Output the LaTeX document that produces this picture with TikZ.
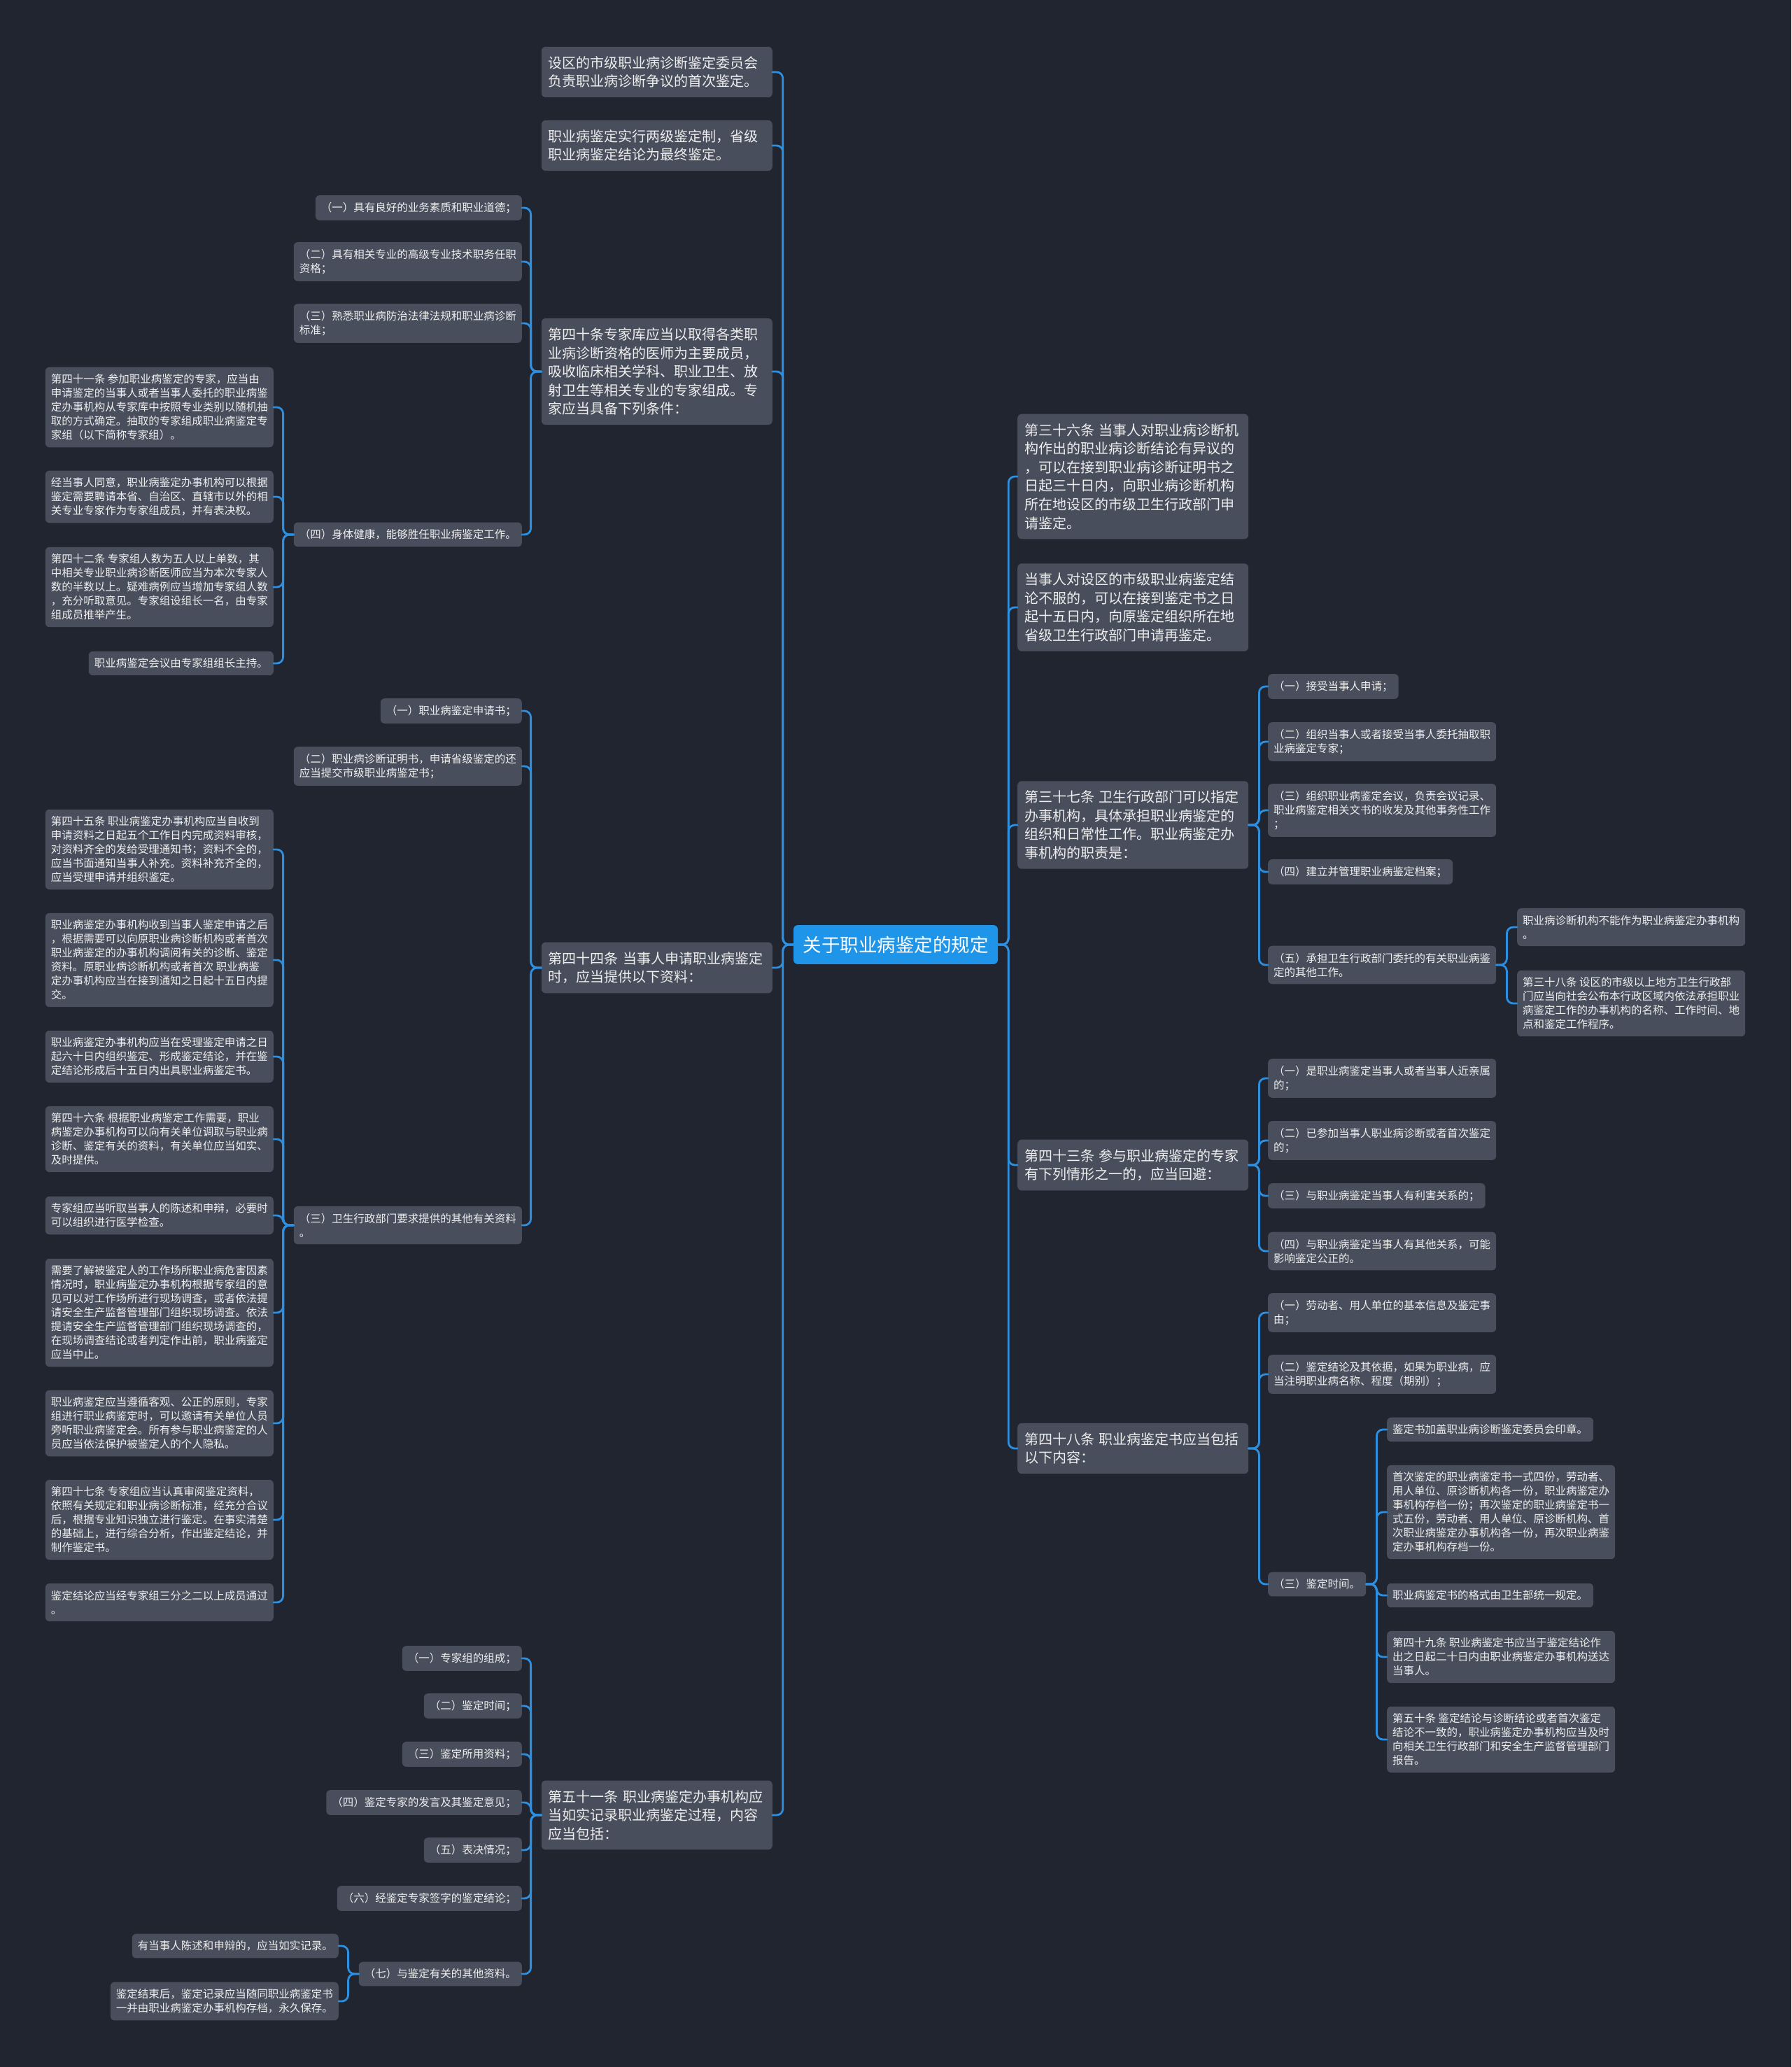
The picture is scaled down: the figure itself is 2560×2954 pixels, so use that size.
\documentclass[tikz,border=0pt]{standalone}
\usepackage{fontspec}
\newfontfamily\cjk{Noto Sans CJK SC}
\definecolor{bgc}{HTML}{212530}
\definecolor{nodefill}{HTML}{484E5C}
\definecolor{rootfill}{HTML}{1E95E8}
\definecolor{linec}{HTML}{2C8FE0}
\definecolor{txtc}{HTML}{EEEEEE}
\newcommand\lconn[2]{\draw[conn] (#1.west) -- ++(-15,0) |- (#2.east);}
\newcommand\rconn[2]{\draw[conn] (#1.east) -- ++(15,0) |- (#2.west);}
\begin{document}
\begin{tikzpicture}[x=1pt,y=-1pt,
  conn/.style={draw=linec, line width=2.8pt, rounded corners=9pt, line cap=round},
  small/.style={fill=nodefill, rounded corners=6pt, text=txtc, align=left,
     font=\cjk\fontsize{15.5}{20}\selectfont, inner xsep=8pt, inner ysep=10pt},
  big/.style={fill=nodefill, rounded corners=6pt, text=txtc, align=left,
     font=\cjk\fontsize{20}{26.6}\selectfont, inner xsep=10pt, inner ysep=13.5pt, text width=310pt},
  rootbox/.style={fill=rootfill, rounded corners=6pt, text=white,
     font=\cjk\fontsize{26.5}{32}\selectfont, inner xsep=13.5pt, inner ysep=15.5pt},
  le/.style={anchor=east}, ri/.style={anchor=west}]
\fill[bgc] (0,0) rectangle (2560,2954);
\useasboundingbox (0,0) rectangle (2560,2954);

% root
\node[rootbox] (root) at (1280,1350) {关于职业病鉴定的规定};

% ---------- left level 1 ----------
\node[big,le] (A1) at (1104,103) {设区的市级职业病诊断鉴定委员会\\负责职业病诊断争议的首次鉴定。};
\node[big,le] (A2) at (1104,208) {职业病鉴定实行两级鉴定制，省级\\职业病鉴定结论为最终鉴定。};
\node[big,le] (A3) at (1104,531) {第四十条专家库应当以取得各类职\\业病诊断资格的医师为主要成员，\\吸收临床相关学科、职业卫生、放\\射卫生等相关专业的专家组成。专\\家应当具备下列条件：};
\node[big,le] (A4) at (1104,1383) {第四十四条 当事人申请职业病鉴定\\时，应当提供以下资料：};
\node[big,le] (A5) at (1104,2594) {第五十一条 职业病鉴定办事机构应\\当如实记录职业病鉴定过程，内容\\应当包括：};

% under A3
\node[small,le] (B1) at (746,297) {（一）具有良好的业务素质和职业道德；};
\node[small,le] (B2) at (746,374) {（二）具有相关专业的高级专业技术职务任职\\资格；};
\node[small,le] (B3) at (746,462) {（三）熟悉职业病防治法律法规和职业病诊断\\标准；};
\node[small,le] (B4) at (746,764) {（四）身体健康，能够胜任职业病鉴定工作。};

% under B4
\node[small,le] (C1) at (391,582) {第四十一条 参加职业病鉴定的专家，应当由\\申请鉴定的当事人或者当事人委托的职业病鉴\\定办事机构从专家库中按照专业类别以随机抽\\取的方式确定。抽取的专家组成职业病鉴定专\\家组（以下简称专家组）。};
\node[small,le] (C2) at (391,710) {经当事人同意，职业病鉴定办事机构可以根据\\鉴定需要聘请本省、自治区、直辖市以外的相\\关专业专家作为专家组成员，并有表决权。};
\node[small,le] (C3) at (391,839) {第四十二条 专家组人数为五人以上单数，其\\中相关专业职业病诊断医师应当为本次专家人\\数的半数以上。疑难病例应当增加专家组人数\\，充分听取意见。专家组设组长一名，由专家\\组成员推举产生。};
\node[small,le] (C4) at (391,948) {职业病鉴定会议由专家组组长主持。};

% under A4
\node[small,le] (D1) at (746,1016) {（一）职业病鉴定申请书；};
\node[small,le] (D2) at (746,1095) {（二）职业病诊断证明书，申请省级鉴定的还\\应当提交市级职业病鉴定书；};
\node[small,le] (D3) at (746,1751) {（三）卫生行政部门要求提供的其他有关资料\\。};

% under D3
\node[small,le] (E1) at (391,1214) {第四十五条 职业病鉴定办事机构应当自收到\\申请资料之日起五个工作日内完成资料审核，\\对资料齐全的发给受理通知书；资料不全的，\\应当书面通知当事人补充。资料补充齐全的，\\应当受理申请并组织鉴定。};
\node[small,le] (E2) at (391,1372) {职业病鉴定办事机构收到当事人鉴定申请之后\\，根据需要可以向原职业病诊断机构或者首次\\职业病鉴定的办事机构调阅有关的诊断、鉴定\\资料。原职业病诊断机构或者首次 职业病鉴\\定办事机构应当在接到通知之日起十五日内提\\交。};
\node[small,le] (E3) at (391,1510) {职业病鉴定办事机构应当在受理鉴定申请之日\\起六十日内组织鉴定、形成鉴定结论，并在鉴\\定结论形成后十五日内出具职业病鉴定书。};
\node[small,le] (E4) at (391,1628) {第四十六条 根据职业病鉴定工作需要，职业\\病鉴定办事机构可以向有关单位调取与职业病\\诊断、鉴定有关的资料，有关单位应当如实、\\及时提供。};
\node[small,le] (E5) at (391,1737) {专家组应当听取当事人的陈述和申辩，必要时\\可以组织进行医学检查。};
\node[small,le] (E6) at (391,1876) {需要了解被鉴定人的工作场所职业病危害因素\\情况时，职业病鉴定办事机构根据专家组的意\\见可以对工作场所进行现场调查，或者依法提\\请安全生产监督管理部门组织现场调查。依法\\提请安全生产监督管理部门组织现场调查的，\\在现场调查结论或者判定作出前，职业病鉴定\\应当中止。};
\node[small,le] (E7) at (391,2034) {职业病鉴定应当遵循客观、公正的原则，专家\\组进行职业病鉴定时，可以邀请有关单位人员\\旁听职业病鉴定会。所有参与职业病鉴定的人\\员应当依法保护被鉴定人的个人隐私。};
\node[small,le] (E8) at (391,2172) {第四十七条 专家组应当认真审阅鉴定资料，\\依照有关规定和职业病诊断标准，经充分合议\\后，根据专业知识独立进行鉴定。在事实清楚\\的基础上，进行综合分析，作出鉴定结论，并\\制作鉴定书。};
\node[small,le] (E9) at (391,2290) {鉴定结论应当经专家组三分之二以上成员通过\\。};

% under A5
\node[small,le] (F1) at (746,2370) {（一）专家组的组成；};
\node[small,le] (F2) at (746,2438) {（二）鉴定时间；};
\node[small,le] (F3) at (746,2507) {（三）鉴定所用资料；};
\node[small,le] (F4) at (746,2576) {（四）鉴定专家的发言及其鉴定意见；};
\node[small,le] (F5) at (746,2644) {（五）表决情况；};
\node[small,le] (F6) at (746,2713) {（六）经鉴定专家签字的鉴定结论；};
\node[small,le] (F7) at (746,2821) {（七）与鉴定有关的其他资料。};
\node[small,le] (G1) at (484,2781) {有当事人陈述和申辩的，应当如实记录。};
\node[small,le] (G2) at (484,2860) {鉴定结束后，鉴定记录应当随同职业病鉴定书\\一并由职业病鉴定办事机构存档，永久保存。};

% ---------- right level 1 ----------
\node[big,ri] (R1) at (1454,681) {第三十六条 当事人对职业病诊断机\\构作出的职业病诊断结论有异议的\\，可以在接到职业病诊断证明书之\\日起三十日内，向职业病诊断机构\\所在地设区的市级卫生行政部门申\\请鉴定。};
\node[big,ri] (R2) at (1454,868) {当事人对设区的市级职业病鉴定结\\论不服的，可以在接到鉴定书之日\\起十五日内，向原鉴定组织所在地\\省级卫生行政部门申请再鉴定。};
\node[big,ri] (R3) at (1454,1179) {第三十七条 卫生行政部门可以指定\\办事机构，具体承担职业病鉴定的\\组织和日常性工作。职业病鉴定办\\事机构的职责是：};
\node[big,ri] (R4) at (1454,1665) {第四十三条 参与职业病鉴定的专家\\有下列情形之一的，应当回避：};
\node[big,ri] (R5) at (1454,2070) {第四十八条 职业病鉴定书应当包括\\以下内容：};

% under R3
\node[small,ri] (S1) at (1812,981) {（一）接受当事人申请；};
\node[small,ri] (S2) at (1812,1060) {（二）组织当事人或者接受当事人委托抽取职\\业病鉴定专家；};
\node[small,ri] (S3) at (1812,1158) {（三）组织职业病鉴定会议，负责会议记录、\\职业病鉴定相关文书的收发及其他事务性工作\\；};
\node[small,ri] (S4) at (1812,1246) {（四）建立并管理职业病鉴定档案；};
\node[small,ri] (S5) at (1812,1379) {（五）承担卫生行政部门委托的有关职业病鉴\\定的其他工作。};
\node[small,ri] (T1) at (2168,1325) {职业病诊断机构不能作为职业病鉴定办事机构\\。};
\node[small,ri] (T2) at (2168,1434) {第三十八条 设区的市级以上地方卫生行政部\\门应当向社会公布本行政区域内依法承担职业\\病鉴定工作的办事机构的名称、工作时间、地\\点和鉴定工作程序。};

% under R4
\node[small,ri] (U1) at (1812,1541) {（一）是职业病鉴定当事人或者当事人近亲属\\的；};
\node[small,ri] (U2) at (1812,1630) {（二）已参加当事人职业病诊断或者首次鉴定\\的；};
\node[small,ri] (U3) at (1812,1709) {（三）与职业病鉴定当事人有利害关系的；};
\node[small,ri] (U4) at (1812,1788) {（四）与职业病鉴定当事人有其他关系，可能\\影响鉴定公正的。};

% under R5
\node[small,ri] (V1) at (1812,1876) {（一）劳动者、用人单位的基本信息及鉴定事\\由；};
\node[small,ri] (V2) at (1812,1964) {（二）鉴定结论及其依据，如果为职业病，应\\当注明职业病名称、程度（期别）；};
\node[small,ri] (V3) at (1812,2264) {（三）鉴定时间。};
\node[small,ri] (W1) at (1982,2043) {鉴定书加盖职业病诊断鉴定委员会印章。};
\node[small,ri] (W2) at (1982,2161) {首次鉴定的职业病鉴定书一式四份，劳动者、\\用人单位、原诊断机构各一份，职业病鉴定办\\事机构存档一份；再次鉴定的职业病鉴定书一\\式五份，劳动者、用人单位、原诊断机构、首\\次职业病鉴定办事机构各一份，再次职业病鉴\\定办事机构存档一份。};
\node[small,ri] (W3) at (1982,2280) {职业病鉴定书的格式由卫生部统一规定。};
\node[small,ri] (W4) at (1982,2368) {第四十九条 职业病鉴定书应当于鉴定结论作\\出之日起二十日内由职业病鉴定办事机构送达\\当事人。};
\node[small,ri] (W5) at (1982,2486) {第五十条 鉴定结论与诊断结论或者首次鉴定\\结论不一致的，职业病鉴定办事机构应当及时\\向相关卫生行政部门和安全生产监督管理部门\\报告。};

% ---------- connectors ----------
\foreach \c in {A1,A2,A3,A4,A5} {\lconn{root}{\c}}
\foreach \c in {B1,B2,B3,B4} {\lconn{A3}{\c}}
\foreach \c in {C1,C2,C3,C4} {\lconn{B4}{\c}}
\foreach \c in {D1,D2,D3} {\lconn{A4}{\c}}
\foreach \c in {E1,E2,E3,E4,E5,E6,E7,E8,E9} {\lconn{D3}{\c}}
\foreach \c in {F1,F2,F3,F4,F5,F6,F7} {\lconn{A5}{\c}}
\foreach \c in {G1,G2} {\lconn{F7}{\c}}
\foreach \c in {R1,R2,R3,R4,R5} {\rconn{root}{\c}}
\foreach \c in {S1,S2,S3,S4,S5} {\rconn{R3}{\c}}
\foreach \c in {T1,T2} {\rconn{S5}{\c}}
\foreach \c in {U1,U2,U3,U4} {\rconn{R4}{\c}}
\foreach \c in {V1,V2,V3} {\rconn{R5}{\c}}
\foreach \c in {W1,W2,W3,W4,W5} {\rconn{V3}{\c}}
\end{tikzpicture}
\end{document}
